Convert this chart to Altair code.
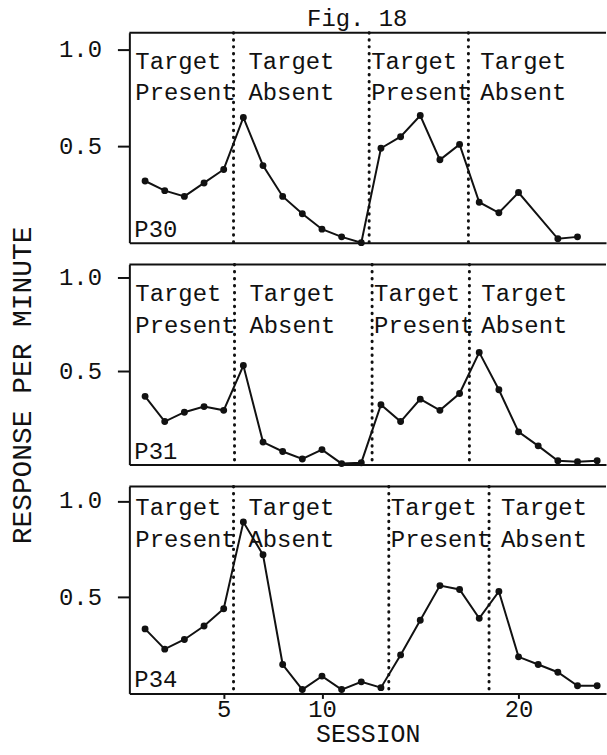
import altair as alt
import pandas as pd

FONT = "Liberation Mono"
INK = "#111111"

# Responses per minute, by session, for each participant
p30_sessions = [1, 2, 3, 4, 5, 6, 7, 8, 9, 10, 11, 12, 13, 14, 15, 16, 17, 18, 19, 20, 22, 23]
p30_rates = [0.32, 0.27, 0.24, 0.31, 0.38, 0.65, 0.40, 0.24, 0.15, 0.07, 0.03, 0.0,
             0.49, 0.55, 0.66, 0.43, 0.51, 0.21, 0.155, 0.26, 0.02, 0.03]

p31_sessions = list(range(1, 25))
p31_rates = [0.365, 0.23, 0.28, 0.31, 0.29, 0.53, 0.12, 0.07, 0.03, 0.08, 0.005, 0.01,
             0.32, 0.23, 0.35, 0.29, 0.38, 0.60, 0.40, 0.175, 0.10, 0.02, 0.015, 0.02]

p34_sessions = list(range(1, 25))
p34_rates = [0.335, 0.23, 0.28, 0.35, 0.44, 0.89, 0.72, 0.15, 0.02, 0.09, 0.02, 0.06,
             0.03, 0.20, 0.38, 0.56, 0.54, 0.39, 0.53, 0.19, 0.15, 0.11, 0.04, 0.04]

# Condition changes (between sessions), drawn as dotted lines
p30_changes = [5.5, 12.4, 17.45]
p31_changes = [5.55, 12.55, 17.5]
p34_changes = [5.5, 13.4, 18.5]

phase_names = ["Target\nPresent", "Target\nAbsent", "Target\nPresent", "Target\nAbsent"]
x_ticks = [5, 10, 20]
y_ticks = [0.5, 1.0]

X_DOMAIN = [0.2, 24.45]
WIDTH = 479
PHASE_DX = [6, 15, 2, 12]


def panel(label, sessions, rates, changes, height, ytop, text_y,
          bottom=False, ytitle=False, heading=False):
    xscale = alt.Scale(domain=X_DOMAIN, nice=False, zero=False)
    yscale = alt.Scale(domain=[0, ytop], nice=False)
    if bottom:
        xaxis = alt.Axis(values=x_ticks, tickSize=5, labelPadding=-1,
                         labelBaseline="top", title="SESSION",
                         titleFontSize=25, titlePadding=0)
    else:
        xaxis = alt.Axis(labels=False, ticks=False, title="")
    if ytitle:
        yaxis = alt.Axis(values=y_ticks, format=".1f", tickSize=12, labelPadding=16,
                         title="RESPONSE PER MINUTE", titleFontSize=28,
                         titlePadding=22, titleY=121)
    else:
        yaxis = alt.Axis(values=y_ticks, format=".1f", tickSize=12, labelPadding=16,
                         title="")

    def xenc(field):
        return alt.X(field, type="quantitative", scale=xscale, axis=xaxis)

    df = pd.DataFrame({"session": sessions, "rate": rates})
    line = alt.Chart(df).mark_line(
        color=INK, strokeWidth=2,
        point=alt.OverlayMarkDef(filled=True, color=INK, size=48, opacity=1),
    ).encode(
        x=xenc("session"),
        y=alt.Y("rate:Q", scale=yscale, axis=yaxis),
    )

    rules = alt.Chart(pd.DataFrame({"change": changes})).mark_rule(
        color=INK, strokeWidth=3, strokeDash=[0.5, 6.5], strokeCap="round"
    ).encode(x=xenc("change"))

    starts = [X_DOMAIN[0]] + list(changes)
    texts = []
    for i, (name, start) in enumerate(zip(phase_names, starts)):
        texts.append(
            alt.Chart(pd.DataFrame({"start": [start], "name": [name]})).mark_text(
                align="left", baseline="alphabetic", font=FONT, fontSize=24,
                lineBreak="\n", lineHeight=32, dx=PHASE_DX[i], color=INK,
            ).encode(x=xenc("start"), y=alt.value(text_y), text="name:N")
        )

    one = pd.DataFrame({"k": [0]})
    border = alt.Chart(one).mark_rule(color=INK, strokeWidth=2).encode(
        x=alt.value(0), x2=alt.value(WIDTH), y=alt.value(0)
    )
    tag = alt.Chart(one).mark_text(
        align="left", baseline="alphabetic", font=FONT, fontSize=24, color=INK
    ).encode(x=alt.value(5), y=alt.value(height - 6), text=alt.value(label))

    layers = [line, rules] + texts + [border, tag]
    if heading:
        layers.append(
            alt.Chart(one).mark_text(
                align="center", baseline="alphabetic", font=FONT, fontSize=24, color=INK
            ).encode(x=alt.value(229), y=alt.value(-7), text=alt.value("Fig. 18"))
        )
    return alt.layer(*layers).properties(width=WIDTH, height=height)


top = panel("P30", p30_sessions, p30_rates, p30_changes, 211, 1.09, 36, heading=True)
mid = panel("P31", p31_sessions, p31_rates, p31_changes, 201, 1.07, 37, ytitle=True)
low = panel("P34", p34_sessions, p34_rates, p34_changes, 208, 1.075, 29, bottom=True)

chart = alt.vconcat(top, mid, low, spacing=22, bounds="flush").properties(
    padding={"left": 8, "top": 5, "right": 0, "bottom": 0},
    background="white",
).configure_view(strokeWidth=0).configure_axis(
    labelFont=FONT, titleFont=FONT, labelFontSize=24, labelColor=INK,
    titleColor=INK, titleFontWeight="normal", domainColor=INK, tickColor=INK,
    domainWidth=2, tickWidth=2, grid=False,
)

chart.save("out.html", embed_options={"renderer": "svg", "actions": False})
